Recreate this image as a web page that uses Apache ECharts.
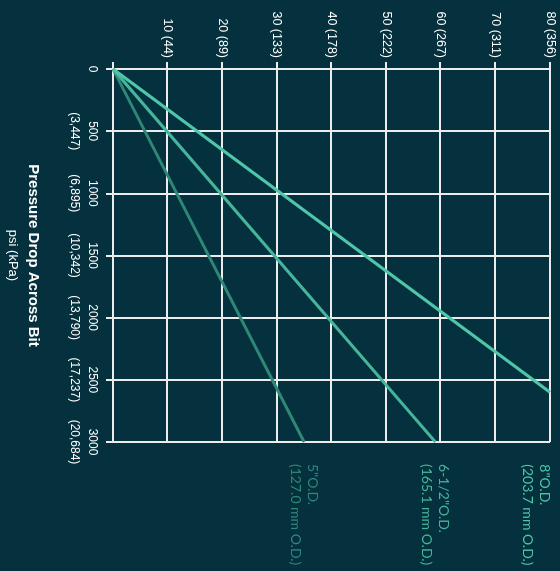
<!DOCTYPE html>
<html>
<head>
<meta charset="utf-8">
<script src="https://cdn.jsdelivr.net/npm/echarts@6/dist/echarts.min.js"></script>
<style>
  html, body { margin: 0; padding: 0; background: #05303d; width: 560px; height: 571px; overflow: hidden; }
  /* chart is laid out landscape and turned a quarter turn clockwise */
  #chart {
    position: absolute; left: 0; top: 0;
    width: 571px; height: 560px;
    transform-origin: 0 0;
    transform: translateX(560px) rotate(90deg);
  }
</style>
</head>
<body>
<div id="chart"></div>
<script>
// Pressure drop across bit (psi) with kPa equivalents
const pressureTicks = [0, 500, 1000, 1500, 2000, 2500, 3000];
const pressureKpa = ['', '(3,447)', '(6,895)', '(10,342)', '(13,790)', '(17,237)', '(20,684)'];

// Force scale (thousands) with equivalents in parentheses
const forceTicks = [0, 10, 20, 30, 40, 50, 60, 70, 80];
const forceMetric = ['', '44', '89', '133', '178', '222', '267', '311', '356'];

// Bit sizes and their lines: [pressure psi, force]
const bitNames = ['5"O.D.\n(127.0 mm O.D.)', '6-1/2"O.D.\n(165.1 mm O.D.)', '8"O.D.\n(203.7 mm O.D.)'];
const bit5 = [[0, 0], [3000, 35]];
const bit65 = [[0, 0], [3000, 59]];
const bit8 = [[0, 0], [2600, 80]];

const lineColors = ['#2e8878', '#45b59c', '#4fc6aa'];
const labelOffsets = [[14, 0], [14, 0], [64, 14]];
const seriesData = [bit5, bit65, bit8];

const chart = echarts.init(document.getElementById('chart'));

const option = {
  backgroundColor: '#05303d',
  animation: false,
  grid: { left: 69, right: 129, top: 10, bottom: 113, containLabel: false },
  xAxis: {
    type: 'value',
    min: 0, max: 3000, interval: 500,
    name: '{b|Pressure Drop Across Bit}\n{s|psi (kPa)}',
    nameLocation: 'middle',
    nameGap: 70,
    nameTextStyle: {
      rich: {
        b: { fontFamily: 'Liberation Sans', fontWeight: 'bold', fontSize: 15, color: '#ffffff', lineHeight: 20 },
        s: { fontFamily: 'Liberation Sans', fontSize: 13, color: '#ffffff', lineHeight: 20 }
      }
    },
    axisLine: { show: true, lineStyle: { color: '#ececec', width: 2 } },
    axisTick: { show: true, length: 7, lineStyle: { color: '#ececec', width: 2 } },
    splitLine: { show: true, lineStyle: { color: '#ececec', width: 2 } },
    axisLabel: {
      margin: 12,
      color: '#ffffff',
      fontFamily: 'Liberation Sans',
      fontSize: 12,
      lineHeight: 18,
      formatter: function (v) {
        const i = pressureTicks.indexOf(v);
        return i > 0 ? v + '\n' + pressureKpa[i] : String(v);
      }
    }
  },
  yAxis: {
    type: 'value',
    min: 0, max: 80, interval: 10,
    axisLine: { show: true, lineStyle: { color: '#ececec', width: 2 } },
    axisTick: { show: true, length: 7, lineStyle: { color: '#ececec', width: 2 } },
    splitLine: { show: true, lineStyle: { color: '#ececec', width: 2 } },
    axisLabel: {
      margin: 11,
      color: '#ffffff',
      fontFamily: 'Liberation Sans',
      fontSize: 12.5,
      formatter: function (v) {
        const i = forceTicks.indexOf(v);
        return i > 0 ? v + ' (' + forceMetric[i] + ')' : '';
      }
    }
  },
  series: seriesData.map(function (d, k) {
    return {
      type: 'line',
      name: bitNames[k],
      data: d,
      symbol: 'none',
      lineStyle: { color: lineColors[k], width: 3 },
      endLabel: {
        show: true,
        formatter: '{a}',
        color: lineColors[k],
        fontFamily: 'Lato',
        fontSize: 14,
        lineHeight: 17,
        align: 'left',
        verticalAlign: 'middle',
        offset: labelOffsets[k]
      },
      z: 3 + k
    };
  })
};

chart.setOption(option);
</script>
</body>
</html>
